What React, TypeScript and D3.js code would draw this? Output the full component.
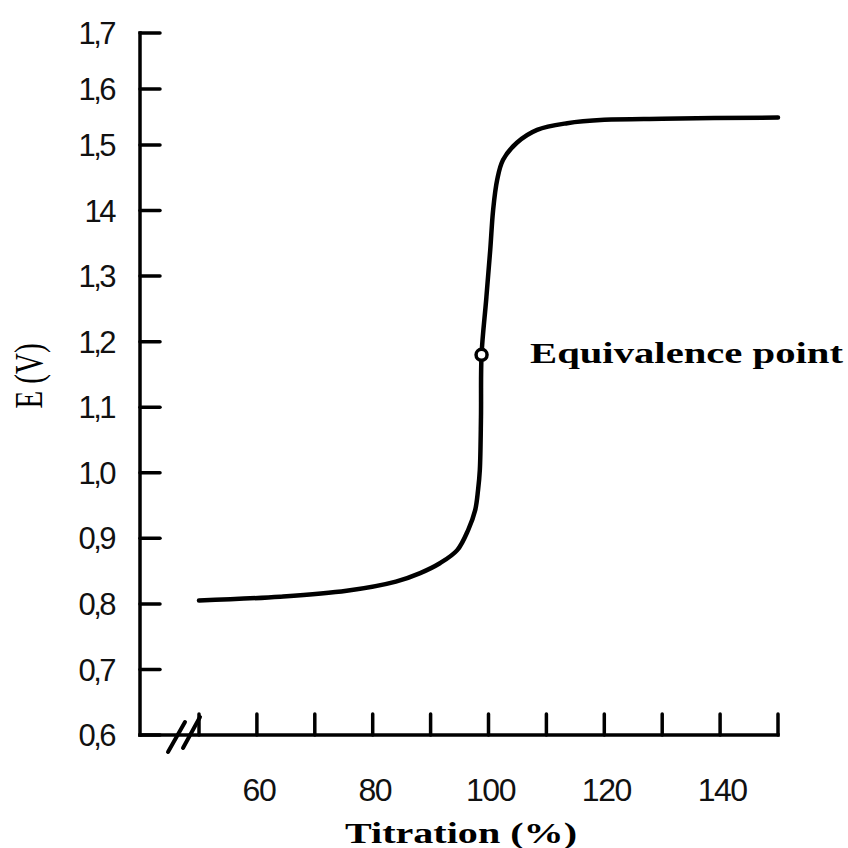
import React from "react";
import * as d3 from "d3";

// titration curve
const titration = [50, 64, 75.5, 84, 88.2, 91.6, 94.6, 96.5, 97.7, 98.2, 98.5, 98.7, 98.8, 99.6, 100.3, 100.8, 101.5, 102.5, 104.9, 108.4, 113.6, 120, 130, 150];
const potential = [0.805, 0.811, 0.82, 0.834, 0.847, 0.862, 0.882, 0.913, 0.943, 0.974, 1.004, 1.085, 1.18, 1.264, 1.34, 1.401, 1.447, 1.477, 1.504, 1.527, 1.539, 1.545, 1.547, 1.549];

const equivalence = { x: 98.8, y: 1.18, label: "Equivalence point" };

const yTicks = [0.6, 0.7, 0.8, 0.9, 1.0, 1.1, 1.2, 1.3, 1.4, 1.5, 1.6, 1.7];
const yTickLabels = ["0,6", "0,7", "0,8", "0,9", "1,0", "1,1", "1,2", "1,3", "14", "1,5", "1,6", "1,7"];
const xTicks = [50, 60, 70, 80, 90, 100, 110, 120, 130, 140, 150];
const xTickLabels = [60, 80, 100, 120, 140];

const W = 848;
const H = 848;

export default function App() {
  // the hand drawn axis is a bit squeezed at the top
  const y = d3.scaleLinear().domain([0.6, 1.5, 1.7]).range([735, 145, 33]);
  const x = d3.scaleLinear().domain([50, 150]).range([199, 778]);

  const axisX = 140;
  const axisY = y(0.6);

  const pts = titration.map((t, i) => [t, potential[i]] as [number, number]);
  const line = d3
    .line<[number, number]>()
    .x((d) => x(d[0]))
    .y((d) => y(d[1]))
    .curve(d3.curveCatmullRom.alpha(0.5));

  const bx = x(50);
  const sans = "'Liberation Sans', Arial, sans-serif";
  const serif = "'Liberation Serif', 'Times New Roman', serif";

  return (
    <svg
      width={W}
      height={H}
      style={{ position: "absolute", left: 0, top: 0, background: "#fff" }}
    >
      {/* y axis */}
      <line x1={axisX} y1={y(1.7)} x2={axisX} y2={axisY} stroke="#000" strokeWidth={3.5} strokeLinecap="square" />
      {yTicks.map((v, i) => (
        <g key={v}>
          <line x1={axisX} x2={axisX + 20} y1={y(v)} y2={y(v)} stroke="#000" strokeWidth={3.5} strokeLinecap="round" />
          <text
            x={114}
            y={y(v)}
            dy="0.36em"
            textAnchor="end"
            fontFamily={sans}
            fontSize={31}
            letterSpacing={-2.5}
            fill="#111"
          >
            {yTickLabels[i]}
          </text>
        </g>
      ))}

      {/* x axis with break */}
      <line x1={axisX} y1={axisY} x2={x(150)} y2={axisY} stroke="#000" strokeWidth={3.5} strokeLinecap="square" />
      {xTicks.map((v) => (
        <line key={v} x1={x(v)} x2={x(v)} y1={axisY} y2={axisY - 21} stroke="#000" strokeWidth={3.5} strokeLinecap="round" />
      ))}
      <line x1={bx - 31} y1={axisY + 17} x2={bx - 14} y2={axisY - 13} stroke="#000" strokeWidth={4} strokeLinecap="round" />
      <line x1={bx - 16} y1={axisY + 13} x2={bx + 1} y2={axisY - 18} stroke="#000" strokeWidth={4} strokeLinecap="round" />
      {xTickLabels.map((v) => (
        <text
          key={v}
          x={x(v) + 2}
          y={801}
          textAnchor="middle"
          fontFamily={sans}
          fontSize={32}
          letterSpacing={-1.5}
          fill="#111"
        >
          {v}
        </text>
      ))}

      {/* curve */}
      <path d={line(pts) ?? ""} fill="none" stroke="#000" strokeWidth={4.5} strokeLinecap="round" strokeLinejoin="round" />

      {/* equivalence point */}
      <circle cx={x(equivalence.x)} cy={y(equivalence.y)} r={5.5} fill="#fff" stroke="#000" strokeWidth={3.5} />
      <text
        x={530}
        y={363}
        fontFamily={serif}
        fontWeight="bold"
        fontSize={30}
        textLength={313}
        lengthAdjust="spacingAndGlyphs"
      >
        {equivalence.label}
      </text>

      {/* axis titles */}
      <text
        x={345}
        y={843}
        fontFamily={serif}
        fontWeight="bold"
        fontSize={30}
        textLength={232}
        lengthAdjust="spacingAndGlyphs"
      >
        Titration (%)
      </text>
      <text
        transform="translate(42,376) scale(1.35,1) rotate(-90)"
        textAnchor="middle"
        fontFamily={serif}
        fontSize={29}
      >
        E (V)
      </text>
    </svg>
  );
}
